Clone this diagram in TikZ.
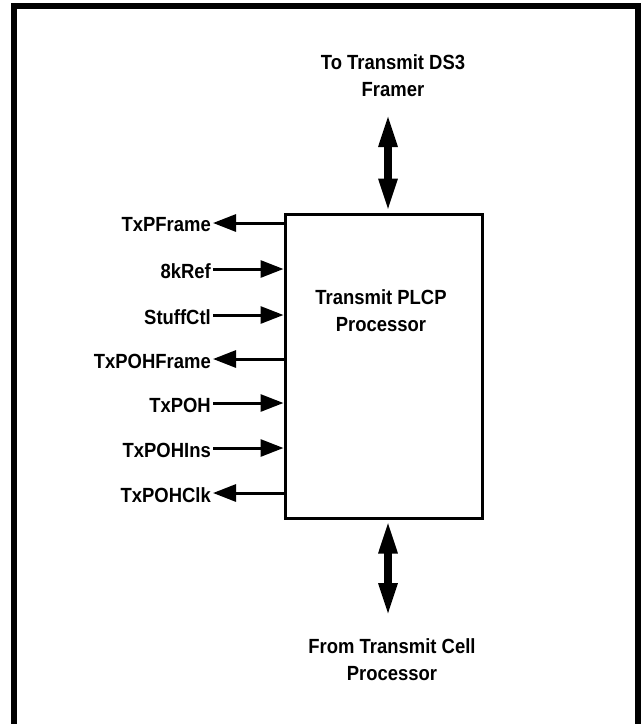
\documentclass[tikz,border=0pt]{standalone}
\usepackage{fontspec}
\setmainfont{Liberation Sans}[FakeStretch=0.9]
\usepackage{tikz}
\usetikzlibrary{positioning,calc,arrows.meta}

\begin{document}
\begin{tikzpicture}[x=1pt, y=-1pt,
  sig/.style={font=\bfseries\fontsize{20.5}{27}\selectfont, inner sep=2pt, anchor=east},
  ttl/.style={font=\bfseries\fontsize{20.5}{27}\selectfont, align=center, inner sep=0pt},
  pin/.style={line width=3pt, -{Triangle[length=23pt,width=17pt]}},
  bus/.style={line width=8pt, {Triangle[length=34pt,width=17pt]}-{Triangle[length=34pt,width=17pt]}}]
  \useasboundingbox (0,0) rectangle (641,724);

  % frame
  \draw[line width=6pt] (14,730) -- (14,6) -- (638,6) -- (638,730);

  % Transmit PLCP block
  \node[draw, line width=3pt, minimum width=197pt, minimum height=304pt, inner sep=0pt] (plcp) at (383.5,366) {};
  \node[ttl] (plcpName) at (381,311) {Transmit PLCP\\Processor};

  % line side
  \node[ttl] (framer) at (393,76) {To Transmit DS3\\Framer};
  \coordinate (framerEnd) at (388,113);
  \draw[bus] (framerEnd) -- (framerEnd |- plcp.north);

  \node[ttl] (cellProc) at (392,660) {From Transmit Cell\\Processor};
  \coordinate (cellEnd) at (388,617);
  \draw[bus] (cellEnd) -- (cellEnd |- plcp.south);

  % overhead / timing pins
  \node[sig] (txpframe) at (213,225) {TxPFrame};
  \draw[pin] (plcp.west |- 0,223) -- (txpframe.east |- 0,223);
  \node[sig] (kref) at (213,271) {8kRef};
  \draw[pin] (kref.east |- 0,269) -- (plcp.west |- 0,269);
  \node[sig] (stuffctl) at (213,317) {StuffCtl};
  \draw[pin] (stuffctl.east |- 0,315) -- (plcp.west |- 0,315);
  \node[sig] (txpohframe) at (213,361) {TxPOHFrame};
  \draw[pin] (plcp.west |- 0,359) -- (txpohframe.east |- 0,359);
  \node[sig] (txpoh) at (213,405) {TxPOH};
  \draw[pin] (txpoh.east |- 0,403) -- (plcp.west |- 0,403);
  \node[sig] (txpohins) at (213,450) {TxPOHIns};
  \draw[pin] (txpohins.east |- 0,448) -- (plcp.west |- 0,448);
  \node[sig] (txpohclk) at (213,495) {TxPOHClk};
  \draw[pin] (plcp.west |- 0,493) -- (txpohclk.east |- 0,493);
\end{tikzpicture}
\end{document}
